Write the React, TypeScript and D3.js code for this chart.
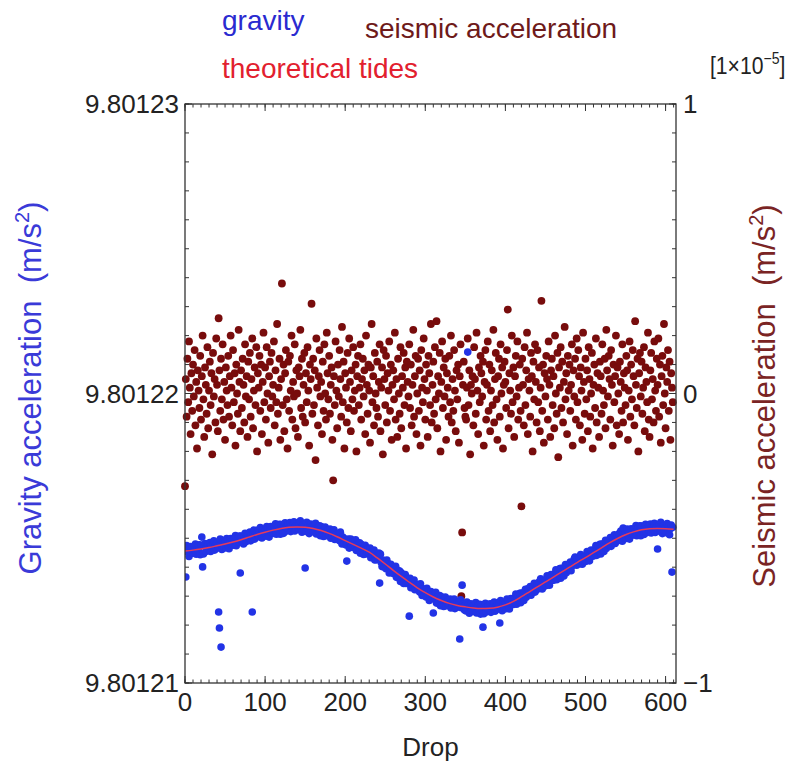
import React from "react";
import * as d3 from "d3";

// ---------- data ----------
// gravity per drop, in 1e-8 m/s^2 above 9.80121
const GRAVITY_BASE = 9.80121;
const gravity: number[] = [
  461, 366, 475, 453, 467, 437, 458, 471, 448, 466,
  448, 467, 457, 480, 445, 463, 476, 458, 477, 443,
  476, 504, 401, 446, 474, 482, 454, 471, 463, 478,
  463, 485, 454, 476, 469, 481, 491, 459, 476, 465,
  483, 472, 245, 190, 497, 124, 461, 486, 480, 467,
  485, 467, 499, 479, 493, 464, 486, 499, 477, 493,
  476, 496, 487, 509, 474, 495, 504, 487, 508, 380,
  508, 489, 498, 480, 508, 517, 488, 506, 498, 514,
  499, 521, 491, 513, 245, 519, 528, 497, 514, 504,
  522, 511, 529, 505, 537, 511, 501, 527, 520, 508,
  526, 508, 540, 520, 534, 504, 527, 540, 518, 534,
  517, 537, 527, 550, 514, 535, 544, 526, 548, 514,
  547, 527, 536, 517, 545, 553, 524, 542, 533, 549,
  533, 554, 523, 544, 537, 548, 557, 525, 542, 531,
  548, 536, 553, 529, 560, 532, 521, 546, 539, 526,
  397, 524, 555, 534, 546, 516, 538, 549, 526, 541,
  523, 541, 531, 552, 515, 535, 542, 523, 543, 509,
  540, 519, 526, 506, 532, 539, 509, 525, 515, 529,
  512, 532, 500, 519, 511, 521, 529, 496, 510, 498,
  514, 501, 516, 491, 521, 493, 480, 504, 496, 481,
  497, 477, 421, 485, 497, 466, 486, 497, 473, 487,
  468, 486, 474, 495, 458, 477, 483, 464, 484, 448,
  479, 458, 464, 444, 469, 476, 446, 461, 451, 464,
  447, 466, 433, 452, 443, 452, 459, 425, 439, 426,
  441, 427, 449, 345, 445, 416, 402, 425, 416, 401,
  416, 395, 425, 401, 412, 380, 400, 410, 384, 398,
  378, 395, 383, 403, 365, 383, 388, 368, 387, 351,
  381, 359, 365, 344, 369, 375, 344, 359, 348, 361,
  231, 362, 329, 348, 339, 349, 356, 322, 336, 323,
  338, 324, 340, 314, 343, 315, 302, 325, 316, 302,
  317, 297, 327, 305, 316, 285, 305, 316, 291, 306,
  242, 304, 293, 313, 276, 295, 302, 283, 302, 267,
  298, 277, 284, 264, 290, 297, 267, 283, 273, 287,
  270, 290, 259, 279, 271, 282, 290, 257, 272, 261,
  277, 265, 281, 152, 287, 260, 338, 273, 265, 252,
  268, 249, 280, 1143, 271, 241, 263, 274, 251, 266,
  248, 267, 257, 278, 242, 262, 270, 252, 272, 238,
  270, 250, 193, 239, 266, 275, 245, 263, 254, 269,
  253, 274, 244, 265, 259, 270, 280, 248, 264, 254,
  271, 259, 278, 207, 285, 260, 250, 276, 269, 257,
  275, 257, 290, 271, 285, 256, 279, 292, 271, 288,
  271, 292, 283, 307, 272, 294, 304, 287, 310, 277,
  311, 293, 302, 285, 314, 324, 296, 315, 325, 324,
  310, 333, 303, 326, 321, 334, 344, 314, 332, 322,
  341, 331, 349, 327, 360, 335, 325, 352, 347, 335,
  354, 337, 370, 351, 366, 338, 361, 375, 354, 371,
  355, 376, 367, 391, 357, 379, 388, 372, 395, 362,
  396, 378, 387, 370, 399, 409, 381, 400, 393, 409,
  395, 418, 388, 411, 406, 419, 429, 435, 417, 407,
  426, 416, 434, 412, 444, 419, 410, 436, 431, 419,
  438, 421, 454, 435, 450, 422, 445, 459, 438, 455,
  439, 460, 451, 475, 441, 463, 472, 456, 479, 446,
  480, 462, 471, 454, 483, 493, 465, 484, 477, 493,
  479, 502, 472, 495, 489, 502, 512, 482, 499, 490,
  508, 497, 516, 493, 525, 500, 490, 535, 510, 499,
  517, 499, 532, 512, 526, 497, 520, 533, 511, 528,
  511, 531, 521, 544, 509, 530, 538, 521, 543, 509,
  542, 522, 531, 513, 540, 548, 519, 537, 528, 544,
  528, 549, 518, 539, 532, 543, 552, 520, 537, 526,
  463, 531, 548, 524, 555, 528, 516, 541, 534, 521,
  538, 519, 551, 530, 542, 512, 533, 546, 383, 538,
];

// seismic acceleration per drop, in 0.01 x 1e-5 m/s^2
const seismic: number[] = [
  -32, 5, -8, 12, -3, 18, 2, -14, 7, -6,
  10, -1, 15, -11, 4, -19, 8, 1, -5, 13,
  -9, 6, 20, -2, -15, 9, 3, -7, 16, -12,
  1, 11, -4, 7, -21, 14, -1, 5, -10, 19,
  3, -13, 26, 8, -6, 12, -2, 17, -9, 4,
  -16, 9, 1, -4, 13, -8, 6, 20, 2, -11,
  15, -3, 7, -18, 10, 0, -7, 22, 4, -13,
  8, -5, 12, 3, -10, 17, -1, 6, -15, 11,
  -2, 14, -8, 5, 19, -12, 1, 9, -4, 16,
  -20, 7, 2, 13, -6, 10, -14, 4, 21, -3,
  9, -9, 16, 0, -17, 6, 11, -5, 14, -1,
  3, 18, -11, 8, -3, 24, -7, 2, 12, -16,
  5, 38, -4, 10, -13, 7, 15, -2, -19, 11,
  -6, 13, 1, 20, -9, 4, -1, 17, -12, 8,
  0, -15, 9, 6, 22, -5, 12, -8, 3, 14,
  -10, 7, -3, 16, 1, -18, 10, 5, 31, -7,
  12, -4, 8, -23, 19, 2, -11, 6, 15, -1,
  4, -14, 11, -6, 17, 0, -9, 21, 7, -2,
  13, -7, 3, 9, -16, -30, 6, -4, 18, 1,
  -12, 10, -1, 15, 5, -8, 23, -3, 11, -19,
  7, 2, -10, 14, -5, 19, 4, -13, 8, -2,
  16, -6, 1, 10, -20, 6, 13, -4, 2, 17,
  -9, 5, 12, -1, 8, -14, 20, 3, -7, 10,
  1, -17, 9, 24, -3, 6, -11, 14, 0, -5,
  11, -8, 4, 17, -13, 2, 9, -21, 15, 5,
  -4, 13, -10, 7, 1, 18, -6, 10, -16, 3,
  8, -2, 21, -9, 5, -15, 12, 0, -7, 16,
  -12, 6, 2, 14, -4, 9, -19, 11, 4, -1,
  17, -5, 10, -11, 3, 22, -8, 6, 13, -14,
  0, 12, -6, 8, -18, 15, 2, -3, 19, 5,
  -9, 10, 1, -15, 13, 7, -4, 24, -10, 3,
  11, -7, 16, -2, 25, -12, 6, 0, 14, -20,
  4, 18, -5, 9, -1, 12, -16, 7, 2, -8,
  13, -3, 20, -10, 5, -6, 15, 1, -13, 8,
  -2, 10, -17, 6, 17, -70, -48, 3, 11, -5,
  -8, -9, 2, 19, -4, 8, -21, 3, 0, 6,
  -11, 16, 5, -7, 21, 1, -14, 9, -3, 13,
  7, -1, 11, -18, 4, 15, -9, 3, 18, -6,
  10, -13, 1, 8, -4, 22, -10, 5, 14, -2,
  -16, 6, 12, -8, 17, 0, 9, -19, 3, 11,
  4, -5, 15, 29, -12, 7, 1, -7, 20, -3,
  9, -15, 6, 13, -1, 18, -9, 2, 10, -6,
  -39, 12, 3, -11, 16, -4, 8, 21, -14, 5,
  1, -8, 14, 6, -20, 11, -2, 17, 4, -10,
  15, -3, 9, -13, 2, 32, -6, 10, -17, 7,
  -1, 13, 5, -9, 18, 3, -15, 8, 12, -4,
  6, -12, 20, 0, -7, 14, -22, 9, 2, 16,
  -5, 11, -10, 4, 23, -2, 7, -14, 13, 1,
  10, -6, 3, 17, -18, 8, -1, 12, -9, 19,
  -3, 15, 6, -11, 9, 1, -16, 21, 4, -7,
  12, -2, 8, -13, 16, 5, -8, 0, 14, -19,
  3, 10, -5, 19, -10, 7, 2, -15, 11, 6,
  -7, 17, 1, -4, 12, -12, 22, 8, -1, 13,
  5, -9, 15, 3, -18, 10, -3, 6, 20, -11,
  9, 0, -14, 11, 4, -6, 17, -10, 7, 2,
  -4, 13, 8, -16, 1, 18, -8, 10, -2, 15,
  6, -11, 25, 3, -5, 12, -20, 7, 14, -1,
  11, -7, 2, 16, -13, 9, 4, -3, 21, -9,
  -15, 8, 14, -2, 5, -10, 18, 1, -6, 12,
  3, 19, -8, 10, -17, 6, 13, -4, 24, 0,
  -12, 9, 4, 15, -6, 11, -16, 7, 2, -3,
];

// theoretical tides, every 10 drops (drop = index*10), 1e-8 m/s^2 above 9.80121
const tides: number[] = [
  456, 459, 463, 468, 474, 480, 487, 495, 504, 513,
  521, 528, 534, 538, 539, 538, 534, 527, 517, 505,
  492, 479, 466, 452, 432, 411, 389, 368, 348, 329,
  312, 297, 285, 275, 268, 263, 259, 257, 258, 262,
  270, 282, 298, 315, 332, 349, 366, 383, 400, 417,
  433, 450, 467, 484, 499, 512, 522, 529, 533, 534,
  533, 531,
];

const xTicks = [0, 100, 200, 300, 400, 500, 600];
const gTicks = [9.80121, 9.80122, 9.80123];
const gTickLabels = ["9.80121", "9.80122", "9.80123"];
const sTicks = [-1, 0, 1];
const sTickLabels = ["\u22121", "0", "1"];

// ---------- layout ----------
const W = 795;
const H = 770;
const L = 185, R = 676, T = 104, B = 683;
const FONT = "'Liberation Sans', Arial, Helvetica, sans-serif";
const BLUE = "#2233e6";
const DARKRED = "#780c0c";
const TIDE = "#e63a5a";

export default function App() {
  const x = d3.scaleLinear().domain([0, 613]).range([L, R]);
  const yG = d3.scaleLinear().domain([9.80121, 9.80123]).range([B, T]);
  const yS = d3.scaleLinear().domain([-1, 1]).range([B, T]);

  const tideLine = d3
    .line<number>()
    .x((_, i) => x(i * 10))
    .y((v) => yG(GRAVITY_BASE + v * 1e-8))
    .curve(d3.curveCatmullRom);

  const xMinor = d3.range(0, 613, 10);
  const gMinor = d3.range(0, 21).map((i) => 9.80121 + i * 1e-6);
  const sMinor = d3.range(-10, 11).map((i) => i / 10);

  const axisColor = "#333";

  return (
    <svg
      width={W}
      height={H}
      viewBox={`0 0 ${W} ${H}`}
      style={{ position: "absolute", left: 0, top: 0, background: "#fff" }}
      fontFamily={FONT}
    >
      <rect x={0} y={0} width={W} height={H} fill="#fff" />
      <defs>
        <clipPath id="plot">
          <rect x={L} y={T - 5} width={R - L + 5} height={B - T + 10} />
        </clipPath>
      </defs>

      {/* seismic points */}
      <g fill={DARKRED}>
        {seismic.map((v, i) => (
          <circle key={"s" + i} cx={x(i)} cy={yS(v / 100)} r={3.9} />
        ))}
      </g>

      {/* gravity points */}
      <g fill={BLUE} clipPath="url(#plot)">
        {gravity.map((v, i) => (
          <circle key={"g" + i} cx={x(i)} cy={yG(GRAVITY_BASE + v * 1e-8)} r={3.8} />
        ))}
      </g>

      {/* tides line */}
      <path d={tideLine(tides) || ""} fill="none" stroke={TIDE} strokeWidth={1.5} clipPath="url(#plot)" />

      {/* frame */}
      <rect x={L} y={T} width={R - L} height={B - T} fill="none" stroke={axisColor} strokeWidth={1.3} />

      {/* ticks */}
      <g stroke={axisColor} strokeWidth={1}>
        {xMinor.map((d) => (
          <g key={"xm" + d}>
            <line x1={x(d)} x2={x(d)} y1={B} y2={B - 3.5} />
            <line x1={x(d)} x2={x(d)} y1={T} y2={T + 3.5} />
          </g>
        ))}
        {xTicks.map((d) => (
          <g key={"xM" + d}>
            <line x1={x(d)} x2={x(d)} y1={B} y2={B - 7} />
            <line x1={x(d)} x2={x(d)} y1={T} y2={T + 7} />
          </g>
        ))}
        {gMinor.map((d, i) => (
          <line key={"gm" + i} x1={L} x2={L + 4} y1={yG(d)} y2={yG(d)} />
        ))}
        {gTicks.map((d, i) => (
          <line key={"gM" + i} x1={L} x2={L + 7} y1={yG(d)} y2={yG(d)} />
        ))}
        {sMinor.map((d, i) => (
          <line key={"sm" + i} x1={R} x2={R - 4} y1={yS(d)} y2={yS(d)} />
        ))}
        {sTicks.map((d, i) => (
          <line key={"sM" + i} x1={R} x2={R - 7} y1={yS(d)} y2={yS(d)} />
        ))}
      </g>

      {/* tick labels */}
      <g fontSize={26} fill="#222">
        {xTicks.map((d) => (
          <text key={"xl" + d} x={x(d)} y={B + 28} textAnchor="middle">
            {d}
          </text>
        ))}
        {gTicks.map((d, i) => (
          <text key={"gl" + i} x={L - 6} y={yG(d) + 9} textAnchor="end">
            {gTickLabels[i]}
          </text>
        ))}
        {sTicks.map((d, i) => (
          <text key={"sl" + i} x={R + 7} y={yS(d) + 9} textAnchor="start">
            {sTickLabels[i]}
          </text>
        ))}
      </g>

      {/* axis titles */}
      <text x={(L + R) / 2} y={756} textAnchor="middle" fontSize={26} fill="#222">
        Drop
      </text>
      <text
        transform={`translate(41, 388) rotate(-90)`}
        textAnchor="middle"
        fontSize={31}
        fill="#3a3ad8"
      >
        Gravity acceleration{"\u00a0\u00a0"}(m/s<tspan dy={-12} fontSize={20}>2</tspan>
        <tspan dy={12}>)</tspan>
      </text>
      <text
        transform={`translate(775, 396) rotate(-90)`}
        textAnchor="middle"
        fontSize={31}
        fill="#7a2424"
      >
        Seismic acceleration{"\u00a0\u00a0"}(m/s<tspan dy={-12} fontSize={20}>2</tspan>
        <tspan dy={12}>)</tspan>
      </text>

      {/* exponent label */}
      <g transform="translate(710, 74) scale(0.88, 1)">
        <text x={0} y={0} fontSize={24} fill="#222">
          [1×10<tspan dy={-10} fontSize={16}>−5</tspan><tspan dy={10}>]</tspan>
        </text>
      </g>

      {/* legend */}
      <text x={222} y={30} fontSize={28} fill="#2a2ad0">gravity</text>
      <text x={365} y={38} fontSize={28} fill="#6e1a1a">seismic acceleration</text>
      <text x={222} y={78} fontSize={28} fill="#e2202e">theoretical tides</text>
    </svg>
  );
}
